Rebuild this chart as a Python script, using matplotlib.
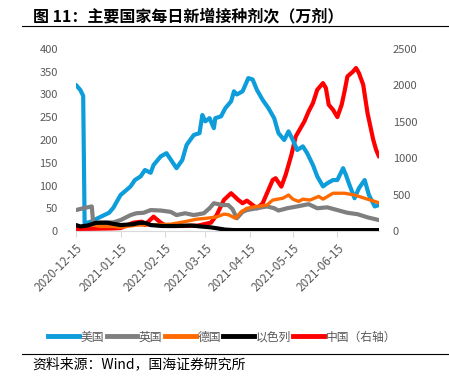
import matplotlib
matplotlib.use("Agg")
import matplotlib.pyplot as plt
from matplotlib.lines import Line2D
import numpy as np
import pandas as pd

plt.rcParams['font.family'] = ['Noto Sans CJK SC', 'DejaVu Sans']

start = pd.Timestamp("2020-12-15")
tick_labels = ["2020-12-15", "2021-01-15", "2021-02-15", "2021-03-15",
               "2021-04-15", "2021-05-15", "2021-06-15"]
end_date = "2021-07-14"

# days since 2020-12-15, daily doses (10k)
us_days = [0, 3, 5, 6, 10, 17, 23, 26, 31, 34, 38, 41, 45, 48, 52, 54, 59, 63,
           70, 74, 77, 82, 86, 88, 90, 93, 96, 97, 101, 104, 108, 110, 112, 116,
           120, 123, 126, 130, 134, 138, 141, 145, 148, 151, 154, 158, 161, 165,
           168, 172, 175, 179, 182, 186, 188, 190, 194, 197, 201, 204, 208, 211]
us_vals = [321, 310, 297, 17, 20, 31, 40, 51, 79, 87, 98, 112, 120, 134, 128, 145, 164, 171,
           138, 156, 189, 211, 215, 255, 241, 248, 226, 248, 252, 270, 285, 307, 300, 307,
           336, 333, 310, 288, 270, 248, 215, 200, 219, 200, 178, 186, 171, 145,
           120, 98, 105, 112, 112, 138, 123, 105, 72, 94, 112, 79, 54, 57]

uk_days = [0, 5, 11, 12, 17, 26, 31, 38, 42, 47, 52, 59, 66, 70, 76, 82, 89, 93, 96,
           102, 106, 109, 112, 116, 119, 126, 133, 138, 141, 147, 154, 162, 168,
           175, 182, 189, 196, 203, 211]
uk_vals = [46, 50, 54, 17, 19, 19, 24, 35, 39, 40, 46, 45, 42, 35, 39, 35, 39, 50, 61,
           57, 57, 48, 28, 42, 46, 50, 54, 50, 45, 50, 54, 59, 50,
           52, 46, 40, 37, 30, 24]

de_days = [5, 12, 17, 26, 31, 42, 52, 66, 75, 84, 91, 98, 103, 106, 111, 115, 119,
           126, 133, 137, 144, 148, 151, 155, 158, 163, 169, 172, 179, 187, 194, 203, 211]
de_vals = [10, 13, 10, 10, 8, 13, 13, 15, 20, 26, 28, 31, 37, 36, 28, 42, 50,
           54, 57, 68, 72, 79, 70, 65, 70, 68, 76, 70, 83, 83, 79, 70, 62]

il_days = [0, 3, 8, 14, 22, 31, 40, 44, 48, 52, 60, 70, 80, 87, 94, 98, 104, 110, 150, 211]
il_vals = [13, 10, 12, 18, 18, 13, 15, 18, 18, 13, 11, 11, 12, 10, 8, 6, 3, 2, 2, 2]

cn_days = [0, 10, 25, 31, 40, 46, 48, 54, 59, 63, 75, 85, 94, 98, 103, 108, 113,
           116, 119, 123, 126, 130, 133, 137, 139, 143, 146, 150, 153, 157, 159, 162,
           165, 168, 172, 174, 176, 179, 182, 185, 187, 189, 193, 195, 197, 200,
           203, 207, 209, 211]
cn_vals = [28, 30, 35, 40, 115, 128, 83, 197, 115, 69, 69, 75, 115, 220, 427, 519, 427,
           381, 417, 358, 312, 381, 519, 702, 725, 610, 771, 1046, 1298, 1435, 1504, 1642,
           1757, 1940, 2032, 1964, 1734, 1665, 1565, 1734, 1917, 2123, 2192, 2239, 2170, 2009,
           1620, 1252, 1115, 1022]


def to_dates(days):
    return start + pd.to_timedelta(np.array(days), unit="D")


fig = plt.figure(figsize=(4.49, 3.82), dpi=100)
ax = fig.add_axes([76 / 449, 1 - 231 / 382, (379 - 76) / 449, (231 - 49) / 382])
ax2 = ax.twinx()

lw = 3.0
ax.plot(to_dates(us_days), us_vals, color="#0d9ddb", lw=lw, solid_capstyle="round", zorder=3)
ax.plot(to_dates(uk_days), uk_vals, color="#7f7f7f", lw=lw, solid_capstyle="round", zorder=3)
ax.plot(to_dates(de_days), de_vals, color="#ff6a00", lw=lw * 0.8, solid_capstyle="round", zorder=3)
ax.plot(to_dates(il_days), il_vals, color="#000000", lw=lw, solid_capstyle="round", zorder=3)
ax2.plot(to_dates(cn_days), cn_vals, color="#ff0000", lw=lw, solid_capstyle="round", zorder=3)

ax.set_zorder(ax2.get_zorder() + 1)
ax.patch.set_visible(False)

ax.set_xlim(start, pd.Timestamp(end_date))
ax.set_ylim(0, 400)
ax2.set_ylim(0, 2500)
ax.set_yticks(np.arange(0, 401, 50))
ax2.set_yticks(np.arange(0, 2501, 500))

ax.set_xticks(pd.to_datetime(tick_labels))
ax.set_xticklabels(tick_labels, rotation=45, ha="right", rotation_mode="anchor")

tc = "#595959"
for a in (ax, ax2):
    for s in a.spines.values():
        s.set_visible(False)
    a.tick_params(axis="y", length=0, labelsize=8, labelcolor=tc)
ax.tick_params(axis="y", pad=13)
ax2.tick_params(axis="y", pad=10)
ax.spines["bottom"].set_visible(True)
ax.spines["bottom"].set_color("#d9d9d9")
ax.spines["bottom"].set_linewidth(0.8)
ax.tick_params(axis="x", length=4, color="#d9d9d9", labelsize=8.5, labelcolor=tc, pad=4)

handles = [
    Line2D([], [], color="#0d9ddb", lw=3.5),
    Line2D([], [], color="#7f7f7f", lw=3.5),
    Line2D([], [], color="#ff6a00", lw=3.5),
    Line2D([], [], color="#000000", lw=3.5),
    Line2D([], [], color="#ff0000", lw=3.5),
]
labels = ["美国", "英国", "德国", "以色列", "中国（右轴）"]
leg = fig.legend(handles, labels, loc="center", bbox_to_anchor=(0.495, 1 - 337 / 382),
                 ncol=5, frameon=False, fontsize=8.5, handlelength=2.6,
                 handletextpad=0.15, columnspacing=0.2, borderpad=0)
for t in leg.get_texts():
    t.set_color(tc)

fig.text(33 / 449, 1 - 16 / 382, "图 11：主要国家每日新增接种剂次（万剂）",
         fontsize=11.5, fontweight="bold", ha="left", va="center")
fig.add_artist(Line2D([22 / 449, 1], [1 - 26 / 382, 1 - 26 / 382], color="black", lw=0.8))
fig.add_artist(Line2D([22 / 449, 1], [1 - 354 / 382, 1 - 354 / 382], color="black", lw=0.8))
fig.text(32 / 449, 1 - 364 / 382, "资料来源：Wind，国海证券研究所",
         fontsize=10, ha="left", va="center")

fig.savefig("out.png", dpi=100)
